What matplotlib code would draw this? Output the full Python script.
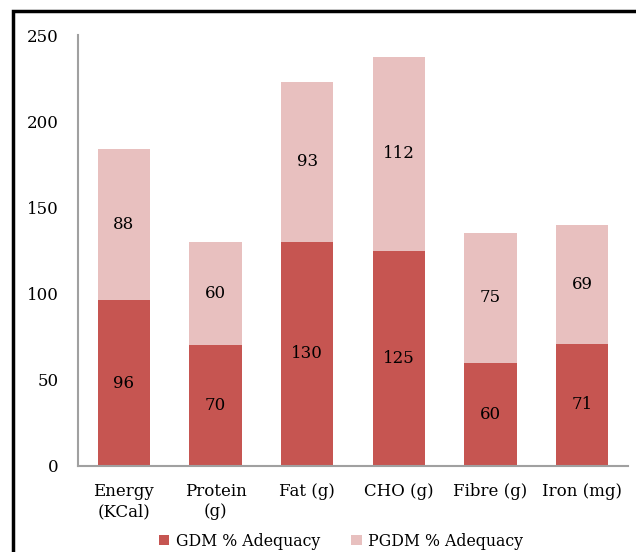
import numpy as np
import matplotlib.pyplot as plt
from matplotlib.patches import Rectangle

# data
categories = ['Energy\n(KCal)', 'Protein\n(g)', 'Fat (g)', 'CHO (g)', 'Fibre (g)', 'Iron (mg)']
gdm = [96, 70, 130, 125, 60, 71]
pgdm = [88, 60, 93, 112, 75, 69]
series_names = ['GDM % Adequacy', 'PGDM % Adequacy']
y_ticks = [0, 50, 100, 150, 200, 250]

dark = '#C65551'
light = '#E8C0BF'
serif = ['DejaVu Serif']

fig = plt.figure(figsize=(6.36, 5.52), dpi=100)
ax = fig.add_axes([78 / 636, 86 / 552, 550 / 636, 431 / 552])

x = np.arange(len(categories))
w = 0.57
b1 = ax.bar(x, gdm, w, color=dark, label=series_names[0])
b2 = ax.bar(x, pgdm, w, bottom=gdm, color=light, label=series_names[1])

for i in range(len(categories)):
    ax.text(x[i], gdm[i] / 2, str(gdm[i]), ha='center', va='center',
            fontsize=12, family=serif)
    ax.text(x[i], gdm[i] + pgdm[i] / 2, str(pgdm[i]), ha='center', va='center',
            fontsize=12, family=serif)

ax.set_xlim(-0.5, len(categories) - 0.5)
ax.set_ylim(0, 250)
ax.set_yticks(y_ticks)
ax.set_xticks(x)
ax.set_xticklabels(categories, fontsize=12, family=serif, linespacing=1.25)
ax.tick_params(axis='both', length=0)
ax.tick_params(axis='y', labelsize=12, pad=14)
ax.tick_params(axis='x', pad=12)
for lab in ax.get_yticklabels():
    lab.set_family(serif)

for s in ['top', 'right']:
    ax.spines[s].set_visible(False)
ax.spines['left'].set_color('#A0A0A0')
ax.spines['bottom'].set_color('#A0A0A0')
ax.spines['left'].set_linewidth(1.5)
ax.spines['bottom'].set_linewidth(1.5)

leg = fig.legend(handles=[b1, b2], loc='center', bbox_to_anchor=(341 / 636, 11 / 552),
                 ncol=2, frameon=False, handlelength=0.65, handleheight=0.65,
                 handletextpad=0.4, columnspacing=2.0, prop={'family': serif, 'size': 11.3})

# outer frame (partly cut off on the right and bottom)
fig.add_artist(Rectangle((13 / 636, -0.2), 1.2, (552 - 11) / 552 + 0.2,
                         transform=fig.transFigure, fill=False, edgecolor='black',
                         linewidth=2.5, clip_on=False))

fig.savefig('out.png', dpi=100)
